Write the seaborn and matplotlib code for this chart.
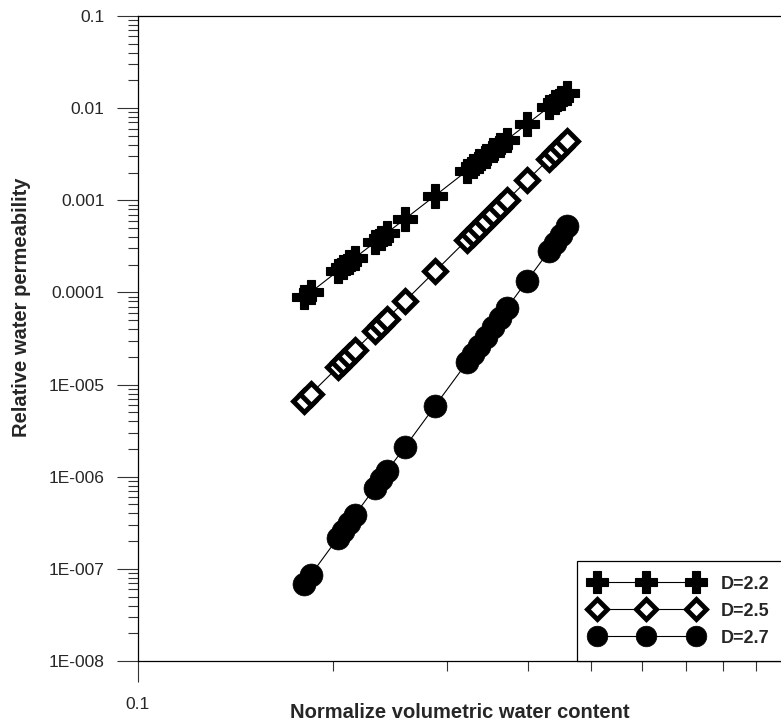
import numpy as np
import pandas as pd
import matplotlib
matplotlib.use("Agg")
import matplotlib.pyplot as plt
from matplotlib.ticker import LogLocator, FixedLocator, FixedFormatter, NullFormatter
import seaborn as sns

# normalized volumetric water content (shared by all three curves)
theta = [0.1803, 0.1849, 0.2035, 0.2072, 0.2117, 0.2162, 0.2322, 0.2371, 0.2422,
         0.2583, 0.2873, 0.3219, 0.3288, 0.3359, 0.3444, 0.3530, 0.3619, 0.3710,
         0.3984, 0.4308, 0.4401, 0.4496, 0.4593]

# relative water permeability
kr_22 = [8.83e-5, 1.01e-4, 1.71e-4, 1.88e-4, 2.12e-4, 2.38e-4, 3.51e-4, 3.94e-4, 4.43e-4,
         6.28e-4, 1.12e-3, 2.09e-3, 2.35e-3, 2.64e-3, 3.03e-3, 3.47e-3, 3.97e-3, 4.55e-3,
         6.71e-3, 1.03e-2, 1.16e-2, 1.30e-2, 1.46e-2]
kr_25 = [6.70e-6, 7.96e-6, 1.55e-5, 1.75e-5, 2.03e-5, 2.36e-5, 3.86e-5, 4.47e-5, 5.19e-5,
         8.07e-5, 1.69e-4, 3.73e-4, 4.32e-4, 5.01e-4, 5.96e-4, 7.08e-4, 8.41e-4, 1.00e-3,
         1.64e-3, 2.81e-3, 3.26e-3, 3.78e-3, 4.39e-3]
kr_27 = [6.82e-8, 8.65e-8, 2.17e-7, 2.57e-7, 3.15e-7, 3.86e-7, 7.62e-7, 9.35e-7, 1.15e-6,
         2.11e-6, 5.86e-6, 1.74e-5, 2.13e-5, 2.61e-5, 3.32e-5, 4.21e-5, 5.33e-5, 6.77e-5,
         1.34e-4, 2.82e-4, 3.46e-4, 4.24e-4, 5.20e-4]

labels = ["D=2.2", "D=2.5", "D=2.7"]
y_ticks = [1e-1, 1e-2, 1e-3, 1e-4, 1e-5, 1e-6, 1e-7, 1e-8]
y_ticklabels = ["0.1", "0.01", "0.001", "0.0001", "1E-005", "1E-006", "1E-007", "1E-008"]

df = pd.DataFrame({
    "theta": theta * 3,
    "kr": kr_22 + kr_25 + kr_27,
    "D": [labels[0]] * len(theta) + [labels[1]] * len(theta) + [labels[2]] * len(theta),
})

sns.set_style("ticks")
plt.rcParams["font.family"] = ["Liberation Sans", "DejaVu Sans"]

fig = plt.figure(figsize=(7.81, 7.25), dpi=100)
ax = fig.add_axes([138 / 781, 1 - 661 / 725, 1 - 138 / 781, (661 - 16) / 725])

styles = {
    "D=2.2": dict(marker="P", markersize=17, markerfacecolor="black", markeredgecolor="black", markeredgewidth=0.8),
    "D=2.5": dict(marker="D", markersize=11, markerfacecolor="white", markeredgecolor="black", markeredgewidth=3.5),
    "D=2.7": dict(marker="o", markersize=16.5, markerfacecolor="black", markeredgecolor="black", markeredgewidth=0.5),
}
for lab in labels:
    sub = df[df["D"] == lab]
    sns.lineplot(data=sub, x="theta", y="kr", ax=ax, color="black", linewidth=0.8,
                 estimator=None, sort=True, label=lab, **styles[lab])

ax.set_xscale("log")
ax.set_yscale("log")
ax.set_xlim(0.1, 0.1 * 10 ** (643 / 648))
ax.set_ylim(1e-8, 0.1)

ax.xaxis.set_major_locator(FixedLocator([0.1, 1.0]))
ax.xaxis.set_major_formatter(FixedFormatter(["0.1", "1"]))
ax.xaxis.set_minor_locator(LogLocator(base=10, subs=np.arange(2, 10), numticks=20))
ax.xaxis.set_minor_formatter(NullFormatter())
ax.yaxis.set_major_locator(FixedLocator(y_ticks))
ax.yaxis.set_major_formatter(FixedFormatter(y_ticklabels))
ax.yaxis.set_minor_locator(LogLocator(base=10, subs=np.arange(2, 10), numticks=20))
ax.yaxis.set_minor_formatter(NullFormatter())

ax.tick_params(which="major", direction="out", length=15, width=0.8, color="#333333", labelsize=12.5)
ax.tick_params(axis="y", which="major", pad=9)
ax.tick_params(axis="x", which="major", pad=11)
ax.tick_params(which="minor", direction="out", length=7.5, width=0.8, color="#333333")

for s in ["left", "top", "bottom"]:
    ax.spines[s].set_visible(True)
    ax.spines[s].set_color("black")
    ax.spines[s].set_linewidth(0.9)
ax.spines["right"].set_visible(False)

ax.set_xlabel("Normalize volumetric water content", fontsize=14.5, fontweight="bold", va="center")
ax.xaxis.set_label_coords(0.5, -(712 - 661) / 645)
ax.set_ylabel("Relative water permeability", fontsize=14.5, fontweight="bold")
ax.yaxis.set_label_coords(-(138 - 31) / 643, 0.549)

leg = ax.legend(loc="lower right", bbox_to_anchor=(1.005, 0.0), borderaxespad=0, numpoints=3,
                handlelength=6.1, handletextpad=1.1, borderpad=0.8, labelspacing=0.55,
                prop={"size": 13, "weight": "bold"}, fancybox=False, framealpha=1,
                edgecolor="black")
leg.get_frame().set_linewidth(0.9)
for h in leg.legend_handles:
    h.set_markersize(h.get_markersize() * 0.9)

fig.savefig("out.png", dpi=100)
